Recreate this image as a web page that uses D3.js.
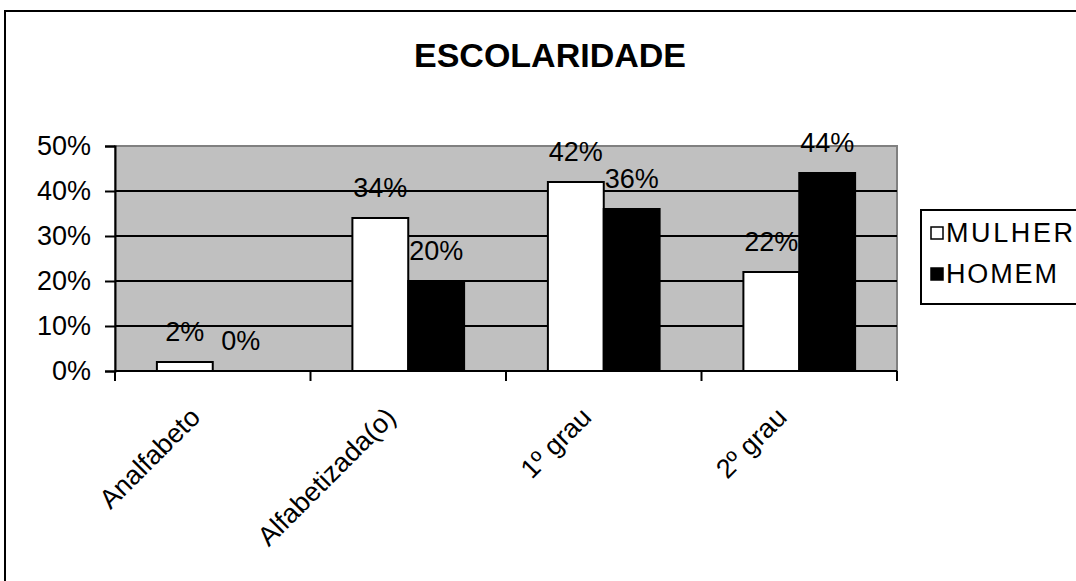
<!DOCTYPE html>
<html>
<head>
<meta charset="utf-8">
<script src="https://cdn.jsdelivr.net/npm/d3@7"></script>
<style>
html,body{margin:0;padding:0;background:#fff;}
svg{display:block;}
text{font-family:"Liberation Sans",Arial,sans-serif;fill:#000;}
</style>
</head>
<body>
<svg id="chart" width="1076" height="581"></svg>
<script>
const title = "ESCOLARIDADE";
const categories = ["Analfabeto", "Alfabetizada(o)", "1º grau", "2º grau"];
const seriesNames = ["MULHER", "HOMEM"];
const mulher = [0.02, 0.34, 0.42, 0.22];
const homem = [0.00, 0.20, 0.36, 0.44];
const yTicks = [0, 0.1, 0.2, 0.3, 0.4, 0.5];
const seriesColors = ["#ffffff", "#000000"];

const svg = d3.select("#chart");
const FS = "27px";

// outer chart border
svg.append("rect").attr("x", 5).attr("y", 11).attr("width", 1200).attr("height", 700)
  .attr("fill", "#fff").attr("stroke", "#000").attr("stroke-width", 2);

const plot = {left: 115, right: 897, top: 146, bottom: 371};

const x = d3.scaleBand().domain(categories).range([plot.left, plot.right]).padding(0);
const xs = d3.scaleBand().domain(seriesNames).range([0, x.bandwidth()]).paddingInner(0).paddingOuter(0.75);
const y = d3.scaleLinear().domain([0, 0.5]).range([plot.bottom, plot.top]);

// plot area background
svg.append("rect").attr("x", plot.left).attr("y", plot.top)
  .attr("width", plot.right - plot.left).attr("height", plot.bottom - plot.top)
  .attr("fill", "#c0c0c0").attr("stroke", "#808080").attr("stroke-width", 2);

// gridlines
svg.append("g").selectAll("line").data(yTicks.filter(t => t > 0 && t < 0.5)).join("line")
  .attr("x1", plot.left).attr("x2", plot.right)
  .attr("y1", d => y(d)).attr("y2", d => y(d))
  .attr("stroke", "#000").attr("stroke-width", 2);

// y axis
const yAxis = d3.axisLeft(y).tickValues(yTicks).tickFormat(d3.format(".0%")).tickSize(10).tickPadding(14);
const gy = svg.append("g").attr("transform", `translate(${plot.left},0)`).call(yAxis);
gy.select(".domain").attr("stroke", "#000").attr("stroke-width", 2);
gy.selectAll(".tick line").attr("stroke", "#000").attr("stroke-width", 2);
gy.selectAll(".tick text").style("font-size", FS).attr("fill", "#000")
  .style("font-family", '"Liberation Sans",Arial,sans-serif');

// bars
const data = categories.map((c, i) => ({cat: c, vals: [mulher[i], homem[i]]}));
const groups = svg.append("g").selectAll("g").data(data).join("g")
  .attr("transform", d => `translate(${x(d.cat)},0)`);
groups.selectAll("rect").data(d => d.vals.map((v, j) => ({v, s: seriesNames[j], j}))).join("rect")
  .attr("x", d => xs(d.s)).attr("width", xs.bandwidth())
  .attr("y", d => y(d.v)).attr("height", d => y(0) - y(d.v))
  .attr("fill", d => seriesColors[d.j]).attr("stroke", "#000").attr("stroke-width", 2)
  .attr("stroke-opacity", d => d.v > 0 ? 1 : 0);
groups.selectAll("text").data(d => d.vals.map((v, j) => ({v, s: seriesNames[j], j}))).join("text")
  .attr("x", d => xs(d.s) + xs.bandwidth() / 2)
  .attr("y", d => y(d.v) - 21)
  .attr("text-anchor", "middle").style("font-size", FS)
  .text(d => d3.format(".0%")(d.v));

// x axis
const xAxisLine = svg.append("g");
xAxisLine.append("line").attr("x1", plot.left).attr("x2", plot.right)
  .attr("y1", plot.bottom).attr("y2", plot.bottom).attr("stroke", "#000").attr("stroke-width", 2);
const boundaries = categories.map(c => x(c)).concat([x(categories[categories.length - 1]) + x.bandwidth()]);
xAxisLine.selectAll("line.t").data(boundaries).join("line").attr("class", "t")
  .attr("x1", d => d).attr("x2", d => d).attr("y1", plot.bottom).attr("y2", plot.bottom + 10)
  .attr("stroke", "#000").attr("stroke-width", 2);
svg.append("g").selectAll("text").data(categories).join("text")
  .attr("transform", d => `translate(${x(d) + x.bandwidth() / 2 - 11},${plot.bottom + 48}) rotate(-45)`)
  .attr("text-anchor", "end").style("font-size", FS)
  .text(d => d);

// title
svg.append("text").attr("x", 550).attr("y", 67).attr("text-anchor", "middle")
  .style("font-size", "34px").style("font-weight", "bold").text(title);

// legend
const leg = svg.append("g");
leg.append("rect").attr("x", 921).attr("y", 210).attr("width", 200).attr("height", 94)
  .attr("fill", "#fff").attr("stroke", "#000").attr("stroke-width", 2);
const li = leg.selectAll("g").data(seriesNames).join("g")
  .attr("transform", (d, i) => `translate(931,${227 + i * 41})`);
li.append("rect").attr("width", 12).attr("height", 12)
  .attr("fill", (d, i) => seriesColors[i]).attr("stroke", "#000").attr("stroke-width", 1.5);
li.append("text").attr("x", 15).attr("y", 15).style("font-size", FS)
  .attr("textLength", (d, i) => i === 0 ? 127 : 111).attr("lengthAdjust", "spacing")
  .text(d => d);
</script>
</body>
</html>
